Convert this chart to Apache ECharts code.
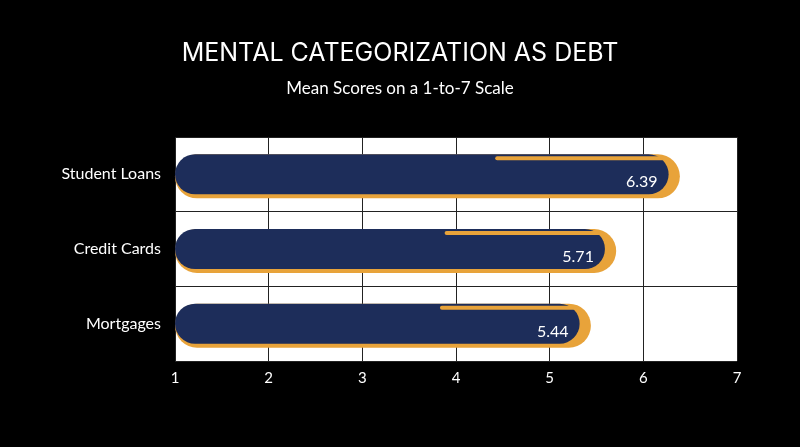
<!DOCTYPE html><html><head><meta charset="utf-8"><script src="https://cdn.jsdelivr.net/npm/echarts@6/dist/echarts.min.js"></script>
<style>html,body{margin:0;background:#000}#c{width:800px;height:447px}</style></head><body><div id="c"></div><script>
const categories=['Student Loans','Credit Cards','Mortgages'];
const values=[6.39,5.71,5.44];
const lineStarts=[4.44,3.9,3.85];
const xTicks=[1,2,3,4,5,6,7];
const chart=echarts.init(document.getElementById('c'));
chart.setOption({
backgroundColor:'#000',
title:{text:'MENTAL CATEGORIZATION AS DEBT',subtext:'Mean Scores on a 1-to-7 Scale',left:'center',top:36,itemGap:14,
textStyle:{color:'#fff',fontFamily:'Inter',fontSize:25,fontWeight:'normal'},subtextStyle:{color:'#fff',fontFamily:'Lato',fontSize:17}},
grid:{left:175,right:63,top:137,bottom:86,show:true,backgroundColor:'#fff',borderColor:'#000',borderWidth:0},
xAxis:{type:'value',min:1,max:7,interval:1,axisLabel:{color:'#fff',fontFamily:'Lato',fontSize:15,margin:10,formatter:v=>xTicks.includes(v)?String(v):''},
splitLine:{lineStyle:{color:'#222',width:1}},axisLine:{show:false},axisTick:{show:false}},
yAxis:{type:'category',data:categories,inverse:true,axisLabel:{color:'#fff',fontFamily:'Lato',fontSize:16,margin:14},
axisTick:{show:false},axisLine:{show:false},splitLine:{show:true,lineStyle:{color:'#222',width:1}}},
series:[
{type:'bar',data:values,barWidth:44,itemStyle:{color:'#e8a33a',borderRadius:22},z:2},
{type:'bar',data:values.map(v=>+(v-0.12).toFixed(2)),barWidth:40,barGap:'-100%',itemStyle:{color:'#1d2d5a',borderRadius:20},z:3,
label:{show:true,position:'insideRight',color:'#fff',fontFamily:'Lato',fontSize:16,offset:[-6,8],formatter:p=>values[p.dataIndex].toFixed(2)}},
{type:'custom',z:4,data:lineStarts.map((s,i)=>[s,values[i]-0.17,i]),encode:{x:[0,1],y:2},
renderItem:(params,api)=>{const a=api.coord([api.value(0),api.value(2)]);const b=api.coord([api.value(1),api.value(2)]);
return {type:'line',shape:{x1:a[0],y1:a[1]-16,x2:b[0],y2:b[1]-16},style:{stroke:'#e8a33a',lineWidth:4,lineCap:'round'}};}}
]});
</script></body></html>
